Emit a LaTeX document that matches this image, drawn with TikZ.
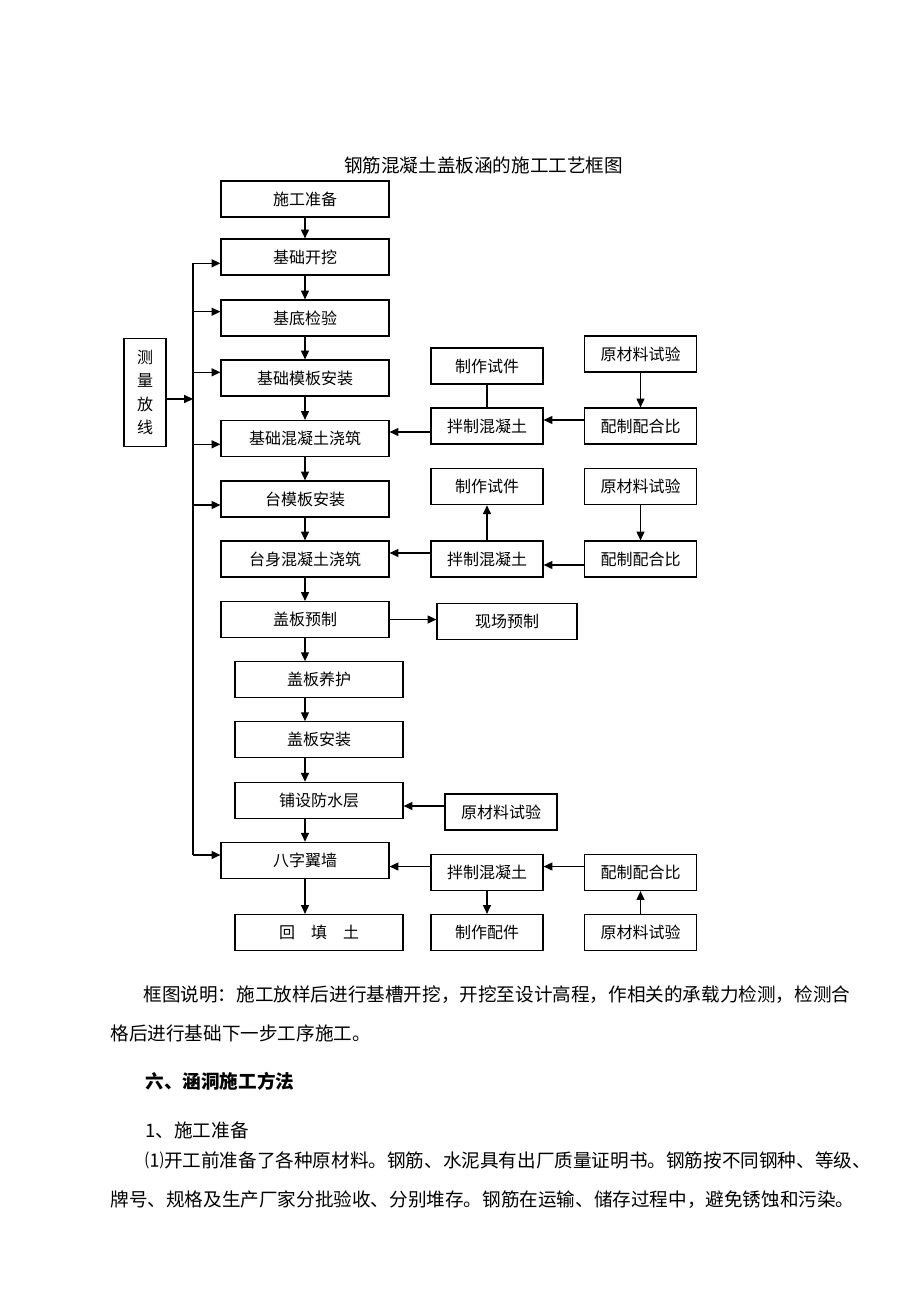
\documentclass[tikz,border=0pt]{standalone}
\usepackage{fontspec}
\setmainfont{Noto Sans CJK SC}
\usepackage{tikz}
\usetikzlibrary{positioning,calc,arrows.meta}

\begin{document}
\begin{tikzpicture}[x=0.5pt,y=-0.5pt]
  \tikzstyle{box} = [draw, line width=0.6pt, inner sep=0pt, minimum height=18pt, font=\fontsize{8}{8}\selectfont]
  \tikzstyle{wide} = [box, minimum width=84pt]
  \tikzstyle{narrow} = [box, minimum width=56pt]
  \tikzstyle{arr} = [line width=0.6pt, -{Triangle[length=4.4pt,width=4pt]}]
  \tikzstyle{body} = [anchor=west, inner sep=0pt, font=\fontsize{9.3}{9.3}\selectfont]
  \useasboundingbox (0,0) rectangle (920,1302);

  \node (title) at (483.5,165) [font=\fontsize{9.3}{9.3}\selectfont] {钢筋混凝土盖板涵的施工工艺框图};

  \node[wide] (zb) at (305,199) {施工准备};
  \node[wide] (kw) at (305,257) {基础开挖};
  \node[wide] (jy) at (305,318) {基底检验};
  \node[wide] (jcmb) at (305,378) {基础模板安装};
  \node[wide] (jcjz) at (305,438.5) {基础混凝土浇筑};
  \node[wide] (tmb) at (305,499) {台模板安装};
  \node[wide] (tsjz) at (305,559) {台身混凝土浇筑};
  \node[wide] (gbyz) at (305,619.5) {盖板预制};
  \node[wide] (gbyh) at (319,679.7) {盖板养护};
  \node[wide] (gbaz) at (319,739.7) {盖板安装};
  \node[wide] (fsc) at (319,800.3) {铺设防水层};
  \node[wide] (bzyq) at (305,860.3) {八字翼墙};
  \node[wide] (htt) at (319,932.5) {回\quad 填\quad 土};

  \node[box, minimum width=21pt, minimum height=54pt, align=center, font=\fontsize{8}{11.67}\selectfont] (clfx) at (145,392.5) {测\\量\\放\\线};

  \node[narrow] (zzsj1) at (487,366) {制作试件};
  \node[narrow] (bz1) at (487,426) {拌制混凝土};
  \node[narrow] (zzsj2) at (487,486.7) {制作试件};
  \node[narrow] (bz2) at (487,559) {拌制混凝土};
  \node[box, minimum width=70pt] (xcyz) at (507,621.3) {现场预制};
  \node[narrow] (ycl3) at (501,812) {原材料试验};
  \node[narrow] (bz3) at (487,872.5) {拌制混凝土};
  \node[narrow] (zzpj) at (487,932.5) {制作配件};

  \node[narrow] (ycl1) at (640.5,354) {原材料试验};
  \node[narrow] (pb1) at (640.5,426) {配制配合比};
  \node[narrow] (ycl2) at (640.5,486.7) {原材料试验};
  \node[narrow] (pb2) at (640.5,559) {配制配合比};
  \node[narrow] (pb3) at (640.5,872.5) {配制配合比};
  \node[narrow] (ycl4) at (640.5,932.5) {原材料试验};

  \draw[arr] (zb) -- (kw);
  \draw[arr] (kw) -- (jy);
  \draw[arr] (jy) -- (jcmb);
  \draw[arr] (jcmb) -- (jcjz);
  \draw[arr] (jcjz) -- (tmb);
  \draw[arr] (tmb) -- (tsjz);
  \draw[arr] (tsjz) -- (gbyz);
  \draw[arr] (gbyz.south) -- (gbyz.south |- gbyh.north);
  \draw[arr] ([xshift=-7pt]gbyh.south) -- ([xshift=-7pt]gbaz.north);
  \draw[arr] ([xshift=-7pt]gbaz.south) -- ([xshift=-7pt]fsc.north);
  \draw[arr] ([xshift=-7pt]fsc.south) -- (bzyq.north);
  \draw[arr] (bzyq.south) -- (bzyq.south |- htt.north);

  \coordinate (b1) at (193,263.3);
  \coordinate (b2) at (193,311.7);
  \coordinate (b3) at (193,372.3);
  \coordinate (b0) at (193,399);
  \coordinate (b4) at (193,444.3);
  \coordinate (b5) at (193,505);
  \coordinate (b6) at (193,855);
  \draw[line width=0.6pt] (b1) -- (b6);
  \draw[arr] (b1) -- (b1 -| kw.west);
  \draw[arr] (b2) -- (b2 -| jy.west);
  \draw[arr] (b3) -- (b3 -| jcmb.west);
  \draw[arr] (b4) -- (b4 -| jcjz.west);
  \draw[arr] (b5) -- (b5 -| tmb.west);
  \draw[arr] (b6) -- (b6 -| bzyq.west);
  \draw[arr] (clfx.east |- b0) -- (b0);

  \draw[line width=0.6pt] (zzsj1) -- (bz1);
  \draw[arr] (ycl1) -- (pb1);
  \draw[arr] ([yshift=3pt]pb1.west) -- ([yshift=3pt]pb1.west -| bz1.east);
  \draw[arr] ([yshift=-3pt]bz1.west) -- ([yshift=-3pt]bz1.west -| jcjz.east);
  \draw[arr] (ycl2) -- (pb2);
  \draw[arr] (bz2) -- (zzsj2);
  \draw[arr] ([yshift=-3pt]pb2.west) -- ([yshift=-3pt]pb2.west -| bz2.east);
  \draw[arr] ([yshift=3pt]bz2.west) -- ([yshift=3pt]bz2.west -| tsjz.east);
  \draw[arr] (gbyz.east) -- (gbyz.east -| xcyz.west);
  \draw[arr] ([yshift=3pt]ycl3.west) -- ([yshift=3pt]ycl3.west -| fsc.east);
  \draw[arr] ([yshift=3pt]bz3.west) -- ([yshift=3pt]bz3.west -| bzyq.east);
  \draw[arr] ([yshift=3pt]pb3.west) -- ([yshift=3pt]pb3.west -| bz3.east);
  \draw[arr] (bz3) -- (zzpj);
  \draw[arr] (ycl4) -- (pb3);

  \node[body] (sm1) at (143,995) {框图说明：施工放样后进行基槽开挖，开挖至设计高程，作相关的承载力检测，检测合};
  \node[body] (sm2) at (110,1033) {格后进行基础下一步工序施工。};
  \node[body, font=\fontsize{9.3}{9.3}\selectfont\bfseries] (sec) at (145,1081.7) {六、涵洞施工方法};
  \node[body] (sub) at (145,1130) {1、施工准备};
  \node[body] (p1) at (145,1160) {⑴开工前准备了各种原材料。钢筋、水泥具有出厂质量证明书。钢筋按不同钢种、等级、};
  \node[body] (p2) at (110,1200) {牌号、规格及生产厂家分批验收、分别堆存。钢筋在运输、储存过程中，避免锈蚀和污染。};
\end{tikzpicture}
\end{document}
